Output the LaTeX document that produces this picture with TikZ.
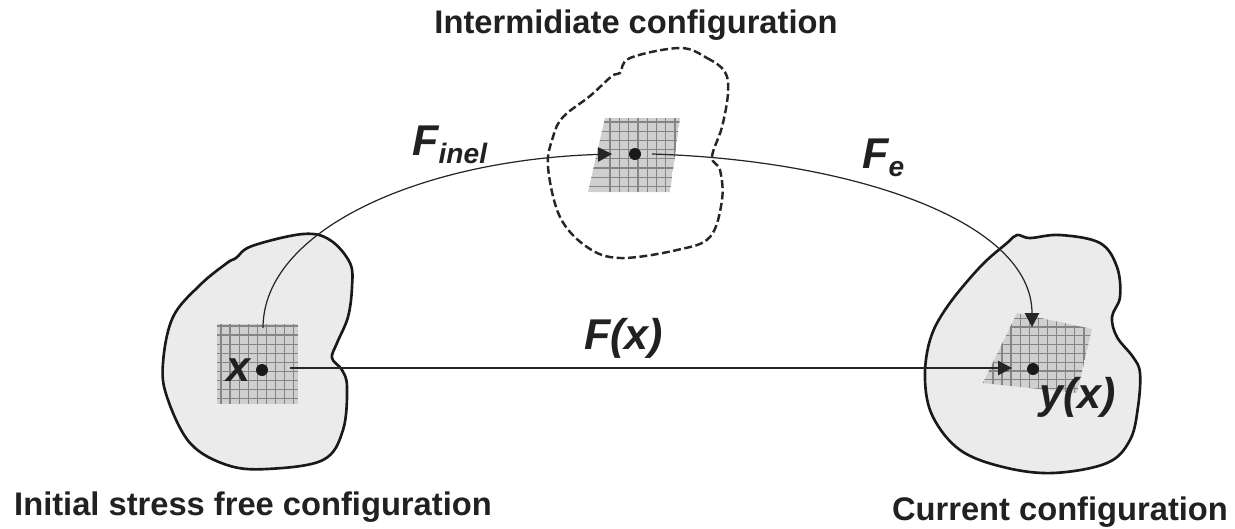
\documentclass[tikz,border=0pt]{standalone}
\usepackage{fontspec}
\setmainfont{Liberation Sans}
\usetikzlibrary{arrows.meta}
\newcommand{\lowsub}[1]{\raisebox{-5pt}{\fontsize{16}{16}\selectfont #1}}

\begin{document}
\begin{tikzpicture}[
    x=0.02cm, y=-0.02cm,
    every node/.style={text=black!87},
    title/.style={font=\fontsize{18.6}{20}\selectfont\bfseries, inner sep=0pt},
    lab/.style={font=\fontsize{24.5}{26}\selectfont\bfseries\itshape, inner sep=0pt},
    body/.style={draw=black!90, line width=1.5pt, fill=black!8},
    ghost/.style={draw=black!85, line width=1.4pt, dash pattern=on 4.5pt off 2pt},
    cell/.style={fill=black!19},
    mesh/.style={draw=black!48, line width=0.7pt},
    point/.style={circle, fill=black!90, inner sep=0pt, minimum size=0.24cm},
    map/.style={-{Triangle[length=2.8mm,width=2.9mm]}, line width=0.7pt, draw=black!85}
]
\useasboundingbox (0,0) rectangle (1235,528);

% bodies
\draw[body] plot[smooth cycle, tension=0.6] coordinates {(303,234) (330,240) (350,263) (352,287) (348,317) (337,343) (332,358) (342,370) (347,387) (343,430) (323,460) (267,469) (227,465) (190,443) (167,397) (163,363) (173,317) (200,285) (227,263) (236,258) (252,246)};
\draw[ghost] plot[smooth cycle, tension=0.6] coordinates {(680,48) (707,58) (725,72) (728,93) (722,127) (712,157) (720,170) (722,200) (710,237) (677,250) (620,258) (587,247) (560,217) (548,167) (553,137) (563,117) (590,96) (612,76) (620,73) (630,58)};
\draw[body] plot[smooth cycle, tension=0.6] coordinates {(1017,235) (1030,238) (1060,235) (1100,243) (1117,267) (1120,297) (1112,317) (1117,337) (1133,357) (1140,373) (1138,407) (1130,440) (1107,463) (1053,473) (1003,467) (960,450) (933,417) (925,380) (930,340) (947,307) (980,267) (1007,243)};

% material elements
\begin{scope}
  \clip (217,324) rectangle (298,404);
  \fill[cell] (217,324) rectangle (298,404);
  \foreach \k in {0,...,8} {
    \draw[mesh] ({221+9.1*\k},324) -- ({221+9.1*\k},404);
    \draw[mesh] (217,{326+9.1*\k}) -- (298,{326+9.1*\k});
  }
\end{scope}
\begin{scope}
  \clip (605,118) -- (680,118) -- (670,192) -- (588,192) -- cycle;
  \fill[cell] (605,118) -- (680,118) -- (670,192) -- (588,192) -- cycle;
  \foreach \k in {0,...,7} {
    \draw[mesh] ({610+9.3*\k},118) -- ({610+9.3*\k},192);
    \draw[mesh] (585,{122+9.2*\k}) -- (684,{122+9.2*\k});
  }
\end{scope}
\begin{scope}
  \clip (1017,313) -- (1092,329) -- (1077,393) -- (983,383) -- cycle;
  \fill[cell] (1017,313) -- (1092,329) -- (1077,393) -- (983,383) -- cycle;
  \foreach \k in {-2,...,9} {
    \draw[mesh] ({1002+9.1*\k},310) -- ({1002+9.1*\k},396);
  }
  \foreach \k in {-1,...,7} {
    \draw[mesh] (980,{327+8.8*\k}) -- (1095,{327+8.8*\k});
  }
\end{scope}

% points
\node[point] (xdot) at (262,370) {};
\node[point] (idot) at (635,154) {};
\node[point] (ydot) at (1033,369) {};

\coordinate (xtop) at (263,328);
\coordinate (xright) at (290,368);
\coordinate (iin) at (612,154);
\coordinate (iout) at (652,154);
\coordinate (ytop) at (1032,327);
\coordinate (yin) at (1012,368);

% maps
\draw[map] (xtop) .. controls (263,230) and (420,160) .. (iin);
\draw[map] (iout) .. controls (850,160) and (1032,220) .. (ytop);
\draw[map] (xright) -- (yin);

% labels
\node[lab, anchor=base west] (finel) at (412,155) {F\lowsub{inel}};
\node[lab, anchor=base west] (fe) at (862,168) {F\lowsub{e}};
\node[lab, anchor=base west] (fx) at (584,349) {F(x)};
\node[lab, anchor=base west] (xlab) at (226,381) {x};
\node[lab, anchor=base west] (ylab) at (1039,408) {y(x)};

\node[title, anchor=base] (ititle) at (636,33) {Intermidiate configuration};
\node[title, anchor=base] (ltitle) at (253,515) {Initial stress free configuration};
\node[title, anchor=base] (ctitle) at (1060,520) {Current configuration};
\end{tikzpicture}
\end{document}
